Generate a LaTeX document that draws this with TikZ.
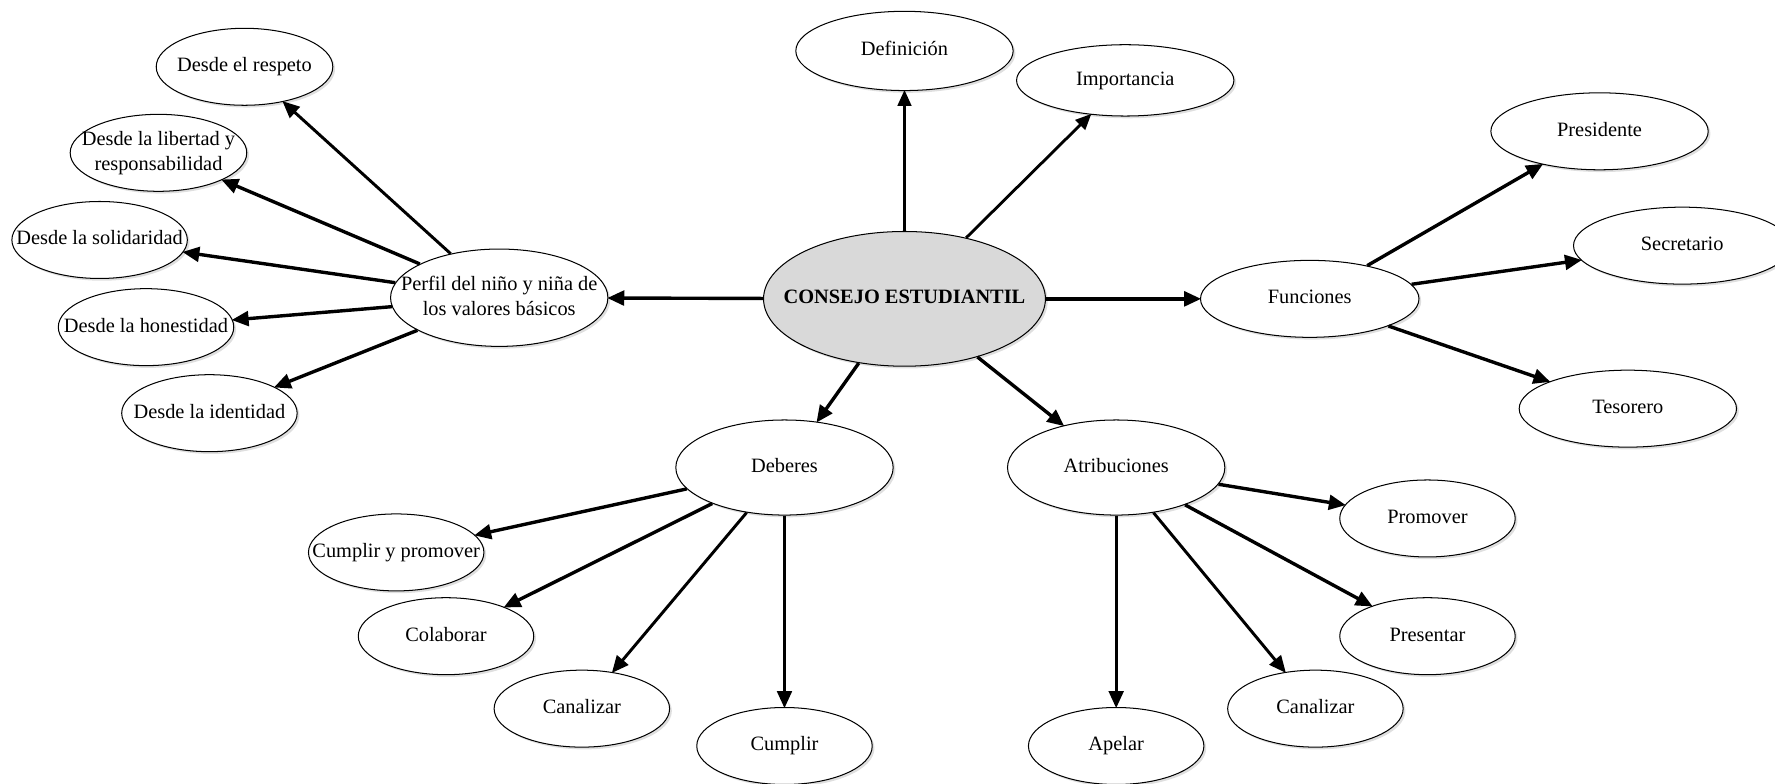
\documentclass[tikz,border=0pt]{standalone}
\usepackage{fontspec}
\setmainfont{Liberation Serif}
\usetikzlibrary{shapes.geometric,arrows.meta,shadows}
\newcommand{\bt}[1]{\makebox[0pt][c]{\begin{tabular}{@{}c@{}}#1\end{tabular}}}
\begin{document}
\begin{tikzpicture}[x=1pt,y=-1pt,
  bub/.style={ellipse,draw=black,line width=0.9pt,fill=white,inner sep=0pt,
    minimum width=155pt,minimum height=68pt,
    font=\fontsize{18}{22}\selectfont,
    drop shadow={shadow xshift=2pt,shadow yshift=-2pt,opacity=0.25,fill=gray}},
  wide/.style={bub,minimum width=192pt},
  link/.style={line width=3pt,-{Triangle[length=15pt,width=13pt]},shorten >=-1pt},
  thin/.style={line width=2.2pt,-{Triangle[length=14pt,width=12pt]},shorten >=-1pt}]
\useasboundingbox (0,0) rectangle (1568,692);
% centre
\node[bub,minimum width=249pt,minimum height=119pt,fill=black!15,
  font=\fontsize{18}{22}\selectfont\bfseries] (cons) at (799,264) {\bt{CONSEJO ESTUDIANTIL}};
% top
\node[wide,minimum height=70pt] (def) at (799,45) {\bt{Definición}};
\node[wide,minimum height=63pt] (imp) at (994,71) {\bt{Importancia}};
% funciones branch
\node[wide,minimum width=193pt] (func) at (1157,264) {\bt{Funciones}};
\node[wide] (pres) at (1413,116) {\bt{Presidente}};
\node[wide] (secr) at (1486,217) {\bt{Secretario}};
\node[wide] (tes) at (1438,361) {\bt{Tesorero}};
% perfil branch
\node[wide,minimum height=86pt] (perf) at (441,263) {\bt{Perfil del niño y niña de\\los valores básicos}};
\node[bub,minimum width=156pt] (resp) at (216,59) {\bt{Desde el respeto}};
\node[bub,minimum width=156pt] (lib) at (140,135) {\bt{Desde la libertad y\\responsabilidad}};
\node[bub] (sol) at (88,212) {\bt{Desde la solidaridad}};
\node[bub] (hon) at (129,289) {\bt{Desde la honestidad}};
\node[bub] (ide) at (185,365) {\bt{Desde la identidad}};
% deberes branch
\node[wide,minimum height=84pt] (deb) at (693,413) {\bt{Deberes}};
\node[bub] (cyp) at (350,488) {\bt{Cumplir y promover}};
\node[bub] (col) at (394,562) {\bt{Colaborar}};
\node[bub] (canl) at (514,626) {\bt{Canalizar}};
\node[bub] (cum) at (693,659) {\bt{Cumplir}};
% atribuciones branch
\node[wide,minimum height=84pt] (atr) at (986,413) {\bt{Atribuciones}};
\node[bub] (prom) at (1261,458) {\bt{Promover}};
\node[bub] (prest) at (1261,562) {\bt{Presentar}};
\node[bub] (canr) at (1162,626) {\bt{Canalizar}};
\node[bub] (ape) at (986,659) {\bt{Apelar}};
% connectors
\draw[thin] (cons) -- (def);
\draw[thin,line width=2.5pt] (cons) -- (imp);
\draw[link] (cons) -- (perf);
\draw[link] (cons) -- (func);
\draw[link] (cons) -- (deb);
\draw[link] (cons) -- (atr);
\draw[link,line width=2.6pt] (perf) -- (resp);
\draw[link] (perf) -- (lib);
\draw[link] (perf) -- (sol);
\draw[link] (perf) -- (hon);
\draw[link] (perf) -- (ide);
\draw[link] (func) -- (pres);
\draw[link] (func) -- (secr);
\draw[link] (func) -- (tes);
\draw[link] (deb) -- (cyp);
\draw[link] (deb) -- (col);
\draw[link,line width=2.6pt] (deb) -- (canl);
\draw[link,line width=2.4pt] (deb) -- (cum);
\draw[link] (atr) -- (prom);
\draw[link] (atr) -- (prest);
\draw[link,line width=2.6pt] (atr) -- (canr);
\draw[link,line width=2.4pt] (atr) -- (ape);
\end{tikzpicture}
\end{document}
